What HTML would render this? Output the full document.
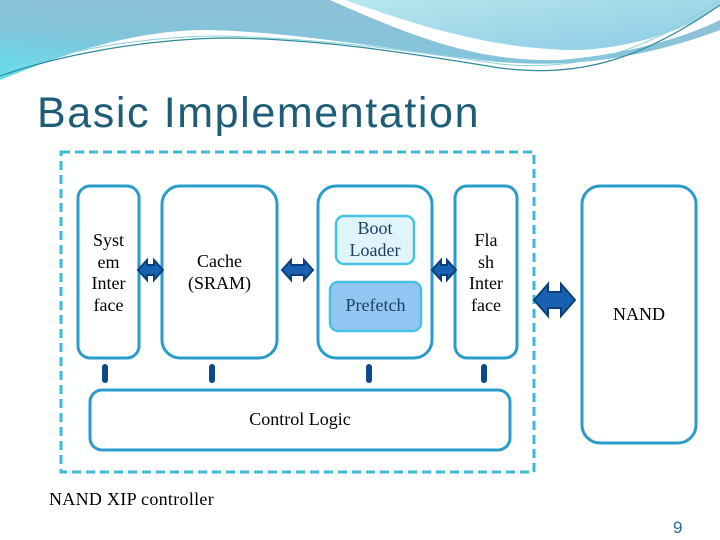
<!DOCTYPE html>
<html><head><style>
body{margin:0;width:720px;height:540px;overflow:hidden;background:#fff;position:relative;font-family:"Liberation Serif",serif}
.t{position:absolute;text-align:center;font-size:18px;line-height:21.5px;color:#000}
</style></head><body>
<svg width="720" height="540" style="position:absolute;left:0;top:0">
<defs>
<linearGradient id="g1" x1="0" y1="1" x2="0.6" y2="0"><stop offset="0" stop-color="#5fe0ee"/><stop offset="0.5" stop-color="#84c4da"/><stop offset="1" stop-color="#8fc0d8"/></linearGradient>
<linearGradient id="g2" x1="0" y1="0" x2="1" y2="1"><stop offset="0" stop-color="#b8e6ec"/><stop offset="1" stop-color="#8ccbe6"/></linearGradient>
</defs>
<path d="M0,0 H720 V30 C640,60 560,70 480,60 C380,48 280,30 200,30 C120,32 50,60 0,80 Z" fill="url(#g1)"/>
<path d="M330,0 H720 V20 C680,40 620,55 560,60 C480,62 420,40 330,0 Z" fill="#fff"/>
<path d="M345,0 H720 V5 C690,30 630,48 580,50 C500,50 430,30 345,0 Z" fill="url(#g2)"/>
<path d="M0,76 C60,55 140,40 220,38 C320,38 420,55 500,68 C580,78 640,60 720,5" fill="none" stroke="#2e8b9c" stroke-width="1.2"/>
<path d="M0,72 C60,52 140,36 220,36 C320,38 420,52 500,64 C580,72 650,50 720,0" fill="none" stroke="#8fd0dc" stroke-width="1"/>
<rect x="61" y="152" width="473" height="320" fill="none" stroke="#3db7da" stroke-width="3" stroke-dasharray="9,5"/>
<g fill="#fff" stroke="#2a9ccb" stroke-width="3">
<rect x="78" y="186" width="61" height="172" rx="12"/>
<rect x="162" y="186" width="115" height="172" rx="18"/>
<rect x="318" y="186" width="114" height="172" rx="18"/>
<rect x="455" y="186" width="62" height="172" rx="12"/>
<rect x="582" y="186" width="114" height="257" rx="18"/>
<rect x="90" y="390" width="420" height="60" rx="12"/>
</g>
<rect x="336" y="216" width="78" height="48" rx="8" fill="#e0f5f9" stroke="#45c3e0" stroke-width="2.5"/>
<rect x="330" y="282" width="91" height="49" rx="8" fill="#93c6f2" stroke="#45c3e0" stroke-width="2.5"/>
<g fill="#1860b0" stroke="#0b3f7a" stroke-width="2">
<path d="M138,270 l9,-10 v5 h7 v-5 l9,10 l-9,10 v-5 h-7 v5 z"/>
<path d="M282,270 l9,-10 v5 h13 v-5 l9,10 l-9,10 v-5 h-13 v5 z"/>
<path d="M432,270 l9,-10 v5 h6 v-5 l9,10 l-9,10 v-5 h-6 v5 z"/>
<path d="M534,300 l14,-16 v8 h13 v-8 l14,16 l-14,16 v-8 h-13 v8 z"/>
</g>
<g stroke="#0d4a8a" stroke-width="6" stroke-linecap="round">
<line x1="105" y1="367" x2="105" y2="380"/>
<line x1="212" y1="367" x2="212" y2="380"/>
<line x1="369" y1="367" x2="369" y2="380"/>
<line x1="484" y1="367" x2="484" y2="380"/>
</g>
</svg>
<div style="position:absolute;left:37px;top:89px;font-family:'Liberation Sans',sans-serif;font-size:43px;letter-spacing:1.6px;color:#1d5d78">Basic Implementation</div>
<div class="t" style="left:78px;top:230px;width:61px">Syst<br>em<br>Inter<br>face</div>
<div class="t" style="left:162px;top:251px;width:115px">Cache<br>(SRAM)</div>
<div class="t" style="left:330px;top:218px;width:90px;color:#1d3f66">Boot<br>Loader</div>
<div class="t" style="left:326px;top:295px;width:99px;color:#1d3f66">Prefetch</div>
<div class="t" style="left:455px;top:230px;width:62px">Fla<br>sh<br>Inter<br>face</div>
<div class="t" style="left:582px;top:304px;width:114px">NAND</div>
<div class="t" style="left:220px;top:409px;width:160px">Control Logic</div>
<div class="t" style="left:49px;top:489px;text-align:left;letter-spacing:0.3px">NAND XIP controller</div>
<div style="position:absolute;left:673px;top:518px;font-family:'Liberation Sans',sans-serif;font-size:17px;color:#1d6f8a">9</div>
</body></html>
